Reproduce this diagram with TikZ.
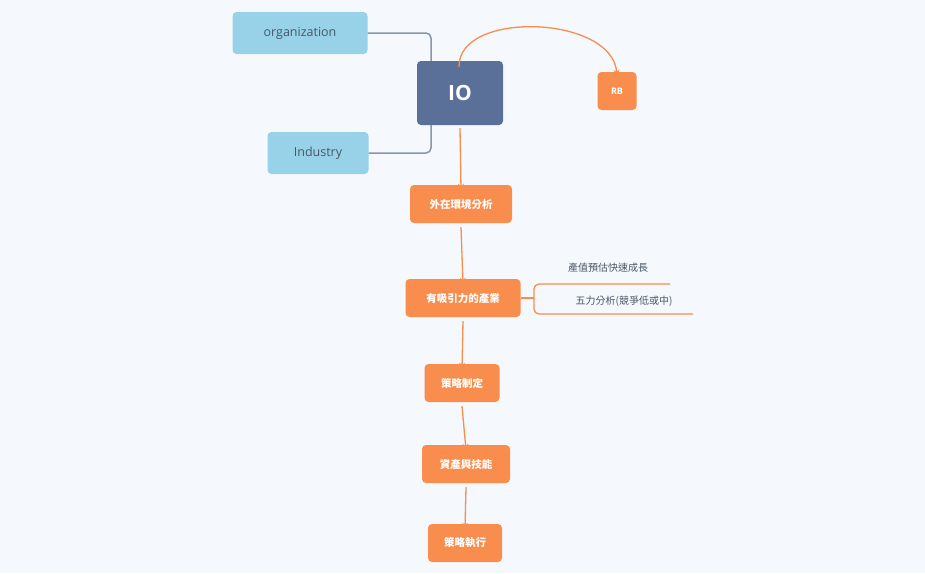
\documentclass[tikz,border=0pt]{standalone}
\usepackage{fontspec}
\setmainfont{Open Sans}
\newfontfamily\cjk{Noto Sans CJK TC}
\usetikzlibrary{arrows.meta}
\definecolor{bgcol}{HTML}{F5F9FD}
\definecolor{sky}{HTML}{97D2E8}
\definecolor{navy}{HTML}{5A7099}
\definecolor{tang}{HTML}{F98D4D}
\definecolor{slate}{HTML}{8A96A8}
\definecolor{ink}{HTML}{4A5666}
\tikzset{
  side/.style={fill=sky, rounded corners=4pt, text=ink, font=\fontsize{12.5}{14}\selectfont, minimum height=42pt},
  stage/.style={fill=tang, rounded corners=4pt, text=white, font=\cjk\bfseries\fontsize{10.5}{12}\selectfont, minimum height=38pt},
  flow/.style={tang, line width=1.3pt, -{Stealth[length=6pt,width=6pt]}},
  link/.style={slate, line width=1.5pt, rounded corners=5pt},
  note/.style={text=ink, font=\cjk\fontsize{10}{12}\selectfont}
}
\begin{document}
\begin{tikzpicture}[x=1pt, y=-1pt]
  \fill[bgcol] (0,0) rectangle (925,573);
  \useasboundingbox (0,0) rectangle (925,573);
  % nodes
  \node (org) [side, minimum width=135pt] at (300,33) {organization};
  \node (ind) [side, minimum width=101pt] at (318,153) {Industry};
  \node (IO) [fill=navy, rounded corners=4pt, text=white, minimum width=86pt, minimum height=64pt, font=\bfseries\fontsize{21}{24}\selectfont] at (460,93) {IO};
  \node (RB) [stage, font=\bfseries\fontsize{9}{11}\selectfont, minimum width=39pt] at (617,91) {RB};
  \node (ext) [stage, minimum width=102pt] at (461,204) {外在環境分析};
  \node (ind2) [stage, minimum width=115pt] at (463,298) {有吸引力的產業};
  \node (form) [stage, minimum width=75pt] at (462,383) {策略制定};
  \node (asset) [stage, minimum width=88pt] at (466,464) {資產與技能};
  \node (exec) [stage, minimum width=74pt] at (465,543) {策略執行};
  % side links
  \draw[link] (org.east) -| ([xshift=-29pt]IO.north);
  \draw[link] (ind.east) -| ([xshift=-29pt]IO.south);
  % flow
  \draw[flow] ([xshift=-1pt, yshift=-6pt]IO.north) .. controls (458,10) and (612,15) .. ([yshift=-4pt]RB.north);
  \draw[flow] ([yshift=-3pt]IO.south) -- ([yshift=-5pt]ext.north);
  \draw[flow] ([yshift=-4pt]ext.south) -- ([yshift=-5pt]ind2.north);
  \draw[flow] ([yshift=-4pt]ind2.south) -- ([yshift=-5pt]form.north);
  \draw[flow] ([yshift=-4pt]form.south) -- ([yshift=-5pt]asset.north);
  \draw[flow] ([yshift=-4pt]asset.south) -- ([yshift=-5pt]exec.north);
  % branch notes
  \coordinate (fork) at (534,298);
  \coordinate (upend) at (670,284);
  \coordinate (lowend) at (693,314);
  \draw[tang, line width=1.3pt] (ind2.east) -- (fork);
  \draw[tang, line width=1.3pt, rounded corners=5pt] (upend) -| (fork) |- (lowend);
  \node (n1) [note] at (608,268) {產值預估快速成長};
  \node (n2) [note] at (624,301) {五力分析(競爭低或中)};
\end{tikzpicture}
\end{document}
